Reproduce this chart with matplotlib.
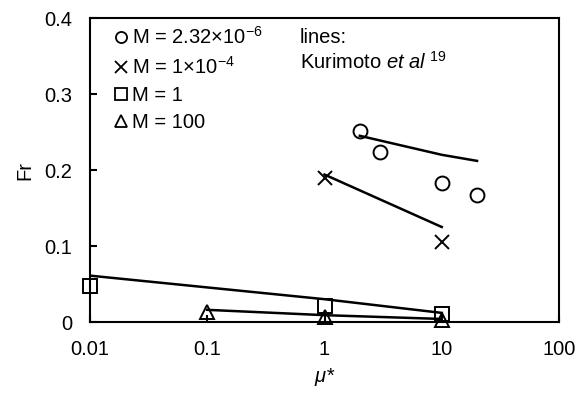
import matplotlib
matplotlib.use('Agg')
import matplotlib.pyplot as plt
from matplotlib.lines import Line2D

plt.rcParams['font.family'] = ['Liberation Sans', 'DejaVu Sans']
plt.rcParams['mathtext.fontset'] = 'custom'
plt.rcParams['mathtext.rm'] = 'Liberation Sans'
plt.rcParams['mathtext.it'] = 'Liberation Sans:italic'

# measured points
circ_x = [2, 3, 10, 20]
circ_y = [0.251, 0.224, 0.183, 0.167]
cross_x = [1, 10]
cross_y = [0.189, 0.105]
sq_x = [0.01, 1, 10]
sq_y = [0.048, 0.021, 0.011]
tri_x = [0.1, 1, 10]
tri_y = [0.013, 0.006, 0.003]

# Kurimoto et al lines
circ_line_x = [2, 10, 20]
circ_line_y = [0.245, 0.220, 0.212]
cross_line_x = [1, 10]
cross_line_y = [0.194, 0.125]
sq_line_x = [0.01, 1, 10]
sq_line_y = [0.061, 0.030, 0.012]
tri_line_x = [0.1, 1, 10]
tri_line_y = [0.016, 0.009, 0.004]

labels = ['M = 2.32×10$^{-6}$', 'M = 1×10$^{-4}$', 'M = 1', 'M = 100']

FS = 14.5


def main():
    fig = plt.figure(figsize=(5.76, 3.94), dpi=100)
    ax = fig.add_axes([90 / 576, 1 - 322 / 394, 469 / 576, 304 / 394])

    for lx, ly in [(circ_line_x, circ_line_y), (cross_line_x, cross_line_y),
                   (sq_line_x, sq_line_y), (tri_line_x, tri_line_y)]:
        ax.plot(lx, ly, color='black', lw=1.8, zorder=2)

    ms = 10
    ax.plot(circ_x, circ_y, 'o', mfc='none', mec='black', ms=ms, mew=1.4, zorder=3)
    ax.plot(cross_x, cross_y, 'x', color='black', ms=ms, mew=1.4, zorder=3)
    ax.plot(sq_x, sq_y, 's', mfc='none', mec='black', ms=ms, mew=1.4, zorder=3,
            clip_on=False)
    ax.plot(tri_x, tri_y, '^', mfc='none', mec='black', ms=ms, mew=1.4, zorder=3,
            clip_on=False)

    ax.set_xscale('log')
    ax.set_xlim(0.01, 100)
    ax.set_ylim(0, 0.4)
    ax.set_yticks([0, 0.1, 0.2, 0.3, 0.4])
    ax.set_yticklabels(['0', '0.1', '0.2', '0.3', '0.4'])
    ax.set_xticks([0.01, 0.1, 1, 10, 100])
    ax.set_xticklabels(['0.01', '0.1', '1', '10', '100'])
    ax.minorticks_off()
    ax.tick_params(direction='in', length=5, width=1.5, labelsize=FS)
    ax.tick_params(axis='y', pad=13)
    ax.tick_params(axis='x', pad=13)
    for s in ax.spines.values():
        s.set_linewidth(1.5)

    ax.set_ylabel('Fr', fontsize=FS, labelpad=7)
    ax.set_xlabel(r'$\mu$*', fontsize=FS, style='italic', labelpad=5)

    handles = [
        Line2D([], [], ls='none', marker='o', mfc='none', mec='black', ms=8, mew=1.3),
        Line2D([], [], ls='none', marker='x', color='black', ms=8, mew=1.3),
        Line2D([], [], ls='none', marker='s', mfc='none', mec='black', ms=8, mew=1.3),
        Line2D([], [], ls='none', marker='^', mfc='none', mec='black', ms=8, mew=1.3),
    ]
    ax.legend(handles, labels, loc='upper left', frameon=False, fontsize=FS,
              handlelength=0.6, handletextpad=0.25, labelspacing=0.4,
              borderaxespad=0.0, bbox_to_anchor=(0.035, 1.0))

    ax.text(0.448, 0.935, 'lines:', transform=ax.transAxes, fontsize=FS,
            va='center', ha='left')
    ax.text(0.448, 0.855, r'Kurimoto $\it{et\ al}$ $^{19}$', transform=ax.transAxes,
            fontsize=FS, va='center', ha='left')

    fig.savefig('out.png', dpi=100)


if __name__ == "__main__":
    main()
